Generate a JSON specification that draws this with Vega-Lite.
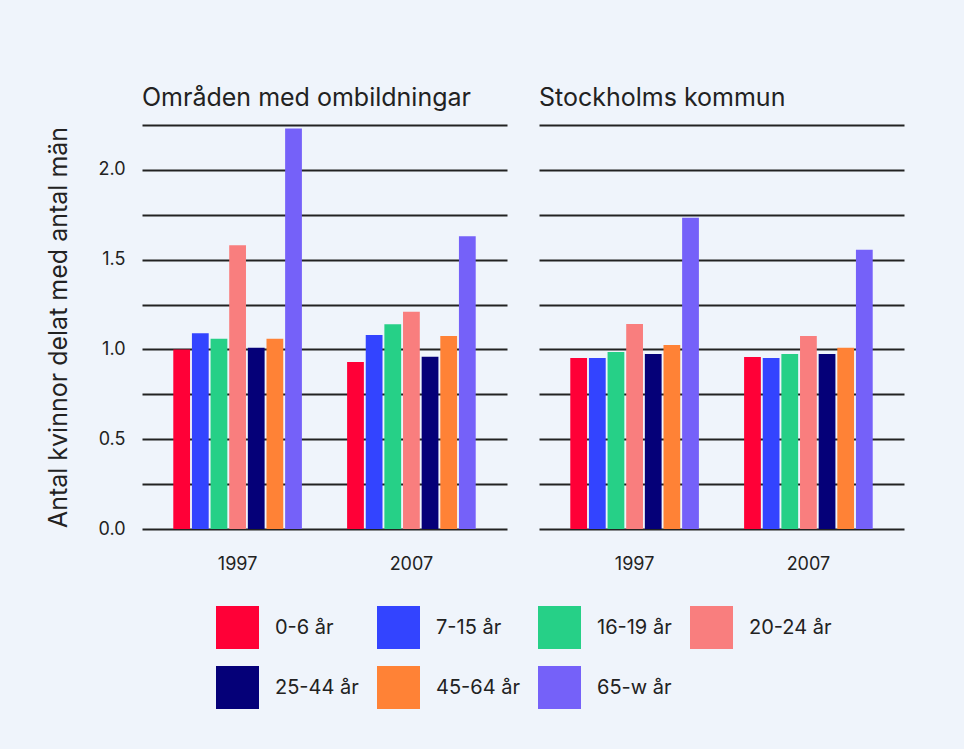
{
  "$schema": "https://vega.github.io/schema/vega-lite/v6.json",
  "background": "#eff4fb",
  "padding": {"left": 46, "top": 86, "right": 60, "bottom": 40},
  "config": {
    "font": "Inter",
    "view": {"stroke": null},
    "axis": {"labelColor": "#222", "titleColor": "#222"}
  },
  "data": {
    "values": [
      {"region": "Områden med ombildningar", "year": "1997", "age": "0-6 år", "value": 1.00},
      {"region": "Områden med ombildningar", "year": "1997", "age": "7-15 år", "value": 1.09},
      {"region": "Områden med ombildningar", "year": "1997", "age": "16-19 år", "value": 1.06},
      {"region": "Områden med ombildningar", "year": "1997", "age": "20-24 år", "value": 1.58},
      {"region": "Områden med ombildningar", "year": "1997", "age": "25-44 år", "value": 1.01},
      {"region": "Områden med ombildningar", "year": "1997", "age": "45-64 år", "value": 1.06},
      {"region": "Områden med ombildningar", "year": "1997", "age": "65-w år", "value": 2.23},
      {"region": "Områden med ombildningar", "year": "2007", "age": "0-6 år", "value": 0.93},
      {"region": "Områden med ombildningar", "year": "2007", "age": "7-15 år", "value": 1.08},
      {"region": "Områden med ombildningar", "year": "2007", "age": "16-19 år", "value": 1.14},
      {"region": "Områden med ombildningar", "year": "2007", "age": "20-24 år", "value": 1.21},
      {"region": "Områden med ombildningar", "year": "2007", "age": "25-44 år", "value": 0.96},
      {"region": "Områden med ombildningar", "year": "2007", "age": "45-64 år", "value": 1.075},
      {"region": "Områden med ombildningar", "year": "2007", "age": "65-w år", "value": 1.63},
      {"region": "Stockholms kommun", "year": "1997", "age": "0-6 år", "value": 0.953},
      {"region": "Stockholms kommun", "year": "1997", "age": "7-15 år", "value": 0.953},
      {"region": "Stockholms kommun", "year": "1997", "age": "16-19 år", "value": 0.986},
      {"region": "Stockholms kommun", "year": "1997", "age": "20-24 år", "value": 1.142},
      {"region": "Stockholms kommun", "year": "1997", "age": "25-44 år", "value": 0.975},
      {"region": "Stockholms kommun", "year": "1997", "age": "45-64 år", "value": 1.025},
      {"region": "Stockholms kommun", "year": "1997", "age": "65-w år", "value": 1.733},
      {"region": "Stockholms kommun", "year": "2007", "age": "0-6 år", "value": 0.958},
      {"region": "Stockholms kommun", "year": "2007", "age": "7-15 år", "value": 0.953},
      {"region": "Stockholms kommun", "year": "2007", "age": "16-19 år", "value": 0.975},
      {"region": "Stockholms kommun", "year": "2007", "age": "20-24 år", "value": 1.075},
      {"region": "Stockholms kommun", "year": "2007", "age": "25-44 år", "value": 0.975},
      {"region": "Stockholms kommun", "year": "2007", "age": "45-64 år", "value": 1.009},
      {"region": "Stockholms kommun", "year": "2007", "age": "65-w år", "value": 1.555}
    ]
  },
  "facet": {
    "column": {
      "field": "region",
      "type": "nominal",
      "sort": ["Områden med ombildningar", "Stockholms kommun"],
      "header": {
        "title": null,
        "labelAnchor": "start",
        "labelFontSize": 25,
        "labelColor": "#222",
        "labelPadding": 14,
        "labelFont": "Inter"
      }
    }
  },
  "spacing": 32,
  "spec": {
    "width": 365,
    "height": 404,
    "mark": {"type": "bar"},
    "encoding": {
      "x": {
        "field": "year",
        "type": "nominal",
        "scale": {"paddingInner": 0.26, "paddingOuter": 0.18},
        "axis": {"title": null, "labelAngle": 0, "domain": false, "ticks": false, "labelPadding": 26, "labelFontSize": 18}
      },
      "xOffset": {
        "field": "age",
        "type": "nominal",
        "sort": ["0-6 år", "7-15 år", "16-19 år", "20-24 år", "25-44 år", "45-64 år", "65-w år"],
        "scale": {"paddingInner": 0.1, "paddingOuter": 0}
      },
      "y": {
        "field": "value",
        "type": "quantitative",
        "scale": {"domain": [0, 2.25], "nice": false},
        "axis": {
          "title": "Antal kvinnor delat med antal män",
          "titleFontSize": 25,
          "titleFontWeight": "normal",
          "titlePadding": 26,
          "values": [0, 0.25, 0.5, 0.75, 1, 1.25, 1.5, 1.75, 2, 2.25],
          "labelExpr": "datum.value % 0.5 === 0 ? format(datum.value, '.1f') : ''",
          "labelFontSize": 18,
          "labelPadding": 17,
          "grid": true,
          "gridColor": "#222",
          "gridWidth": 1.8,
          "gridOpacity": 1,
          "domain": false,
          "ticks": false
        }
      },
      "color": {
        "field": "age",
        "type": "nominal",
        "sort": ["0-6 år", "7-15 år", "16-19 år", "20-24 år", "25-44 år", "45-64 år", "65-w år"],
        "scale": {
          "domain": ["0-6 år", "7-15 år", "16-19 år", "20-24 år", "25-44 år", "45-64 år", "65-w år"],
          "range": ["#ff0037", "#3344ff", "#26d087", "#f97e7e", "#050078", "#ff8236", "#7561f9"]
        },
        "legend": {
          "title": null,
          "orient": "none",
          "legendX": 74,
          "legendY": 481,
          "direction": "horizontal",
          "columns": 4,
          "symbolType": "square",
          "symbolSize": 1849,
          "symbolStrokeWidth": 0,
          "symbolOpacity": 1,
          "labelFontSize": 20,
          "labelColor": "#222",
          "labelOffset": 16,
          "rowPadding": 17,
          "columnPadding": 18
        }
      }
    }
  }
}
